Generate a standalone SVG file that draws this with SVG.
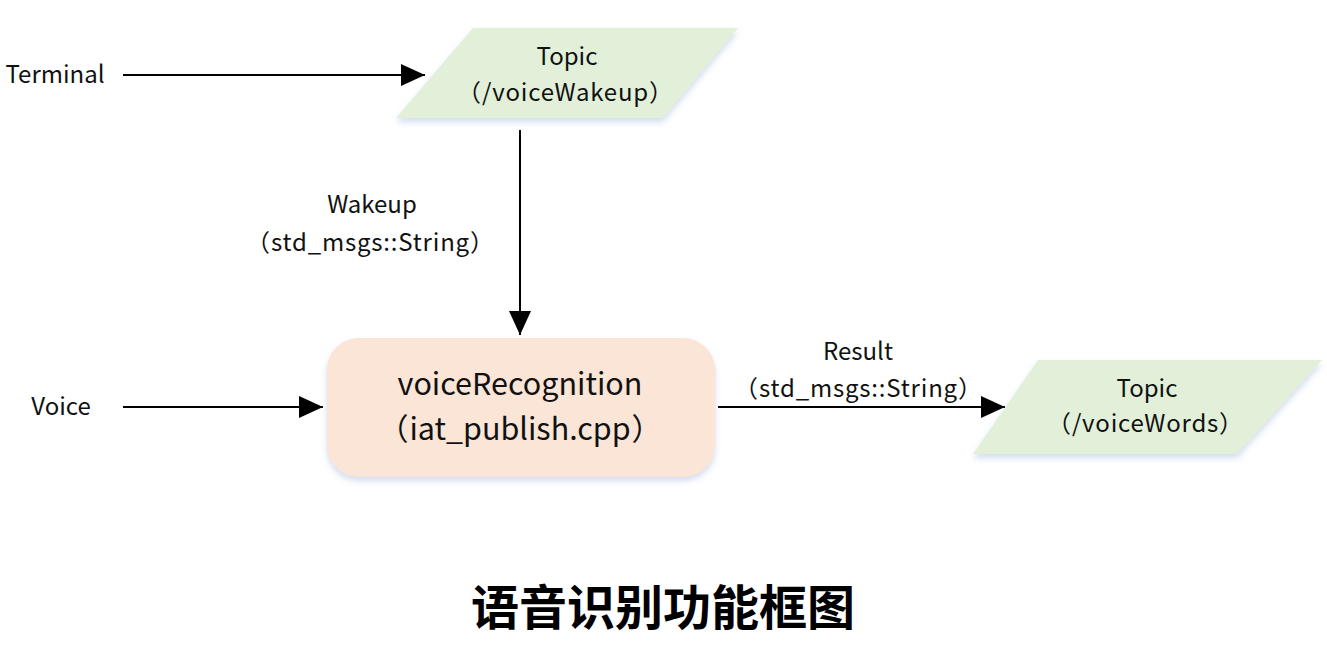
<svg xmlns="http://www.w3.org/2000/svg" width="1327" height="648" viewBox="0 0 1327 648">
<defs>
<style>
.t{font-family:"Noto Sans CJK SC","Open Sans",sans-serif;fill:#111;text-anchor:middle}
.s{font-size:24px}
.m{font-size:30.5px}
.ls{letter-spacing:0.8px}
.line{stroke:#000;stroke-width:2;fill:none}
</style>
<marker id="ah2" viewBox="0 0 10 10" refX="10" refY="5" markerWidth="24" markerHeight="22" markerUnits="userSpaceOnUse" orient="auto" preserveAspectRatio="none"><path d="M0,0 L10,5 L0,10 Z" fill="#000"/></marker>
<filter id="sh" x="-10%" y="-10%" width="120%" height="130%"><feDropShadow dx="0" dy="4" stdDeviation="3" flood-color="#9db4d8" flood-opacity="0.45"/></filter>
</defs>
<rect width="1327" height="648" fill="#fff"/>
<g id="connectors">
<line class="line" x1="123" y1="75" x2="425" y2="75" marker-end="url(#ah2)"/>
<line class="line" x1="520" y1="130" x2="520" y2="335" marker-end="url(#ah2)"/>
<line class="line" x1="123" y1="407" x2="323" y2="407" marker-end="url(#ah2)"/>
<line class="line" x1="718" y1="407" x2="1005" y2="407" marker-end="url(#ah2)"/>
<text class="t s" x="372" y="213">Wakeup</text>
<text class="t s" x="370" y="251">（<tspan dx="1" class="ls">std_msgs::String</tspan><tspan dx="0">）</tspan></text>
<text class="t s" x="858" y="360">Result</text>
<text class="t s" x="858" y="397">（<tspan dx="1" class="ls">std_msgs::String</tspan><tspan dx="0">）</tspan></text>
</g>
<g id="terminal"><text class="t s" x="55" y="83">Terminal</text></g>
<g id="voice"><text class="t s" x="61" y="415">Voice</text></g>
<g id="topic-wakeup">
<polygon points="473,28 738,28 663,118 396,118" fill="#e2f0d9" filter="url(#sh)"/>
<text class="t s" x="567" y="65">Topic</text>
<text class="t s" x="565" y="101">（<tspan dx="1" class="ls">/voiceWakeup</tspan><tspan dx="0">）</tspan></text>
</g>
<g id="voice-recognition">
<rect x="327" y="338" width="388" height="139" rx="32" fill="#fbe5d6" filter="url(#sh)"/>
<text class="t m" x="520" y="395">voiceRecognition</text>
<text class="t m" x="520" y="440">（<tspan dx="1">iat_publish.cpp</tspan><tspan dx="1">）</tspan></text>
</g>
<g id="topic-words">
<polygon points="1038,360 1322,360 1237,454 973,454" fill="#e2f0d9" filter="url(#sh)"/>
<text class="t s" x="1147" y="397">Topic</text>
<text class="t s" x="1145" y="432">（<tspan dx="1" class="ls">/voiceWords</tspan><tspan dx="0">）</tspan></text>
</g>
<g id="title"><text x="663" y="625" style="font-family:'Noto Sans CJK SC',sans-serif;font-weight:bold;font-size:48px;text-anchor:middle;fill:#000">语音识别功能框图</text></g>
</svg>
